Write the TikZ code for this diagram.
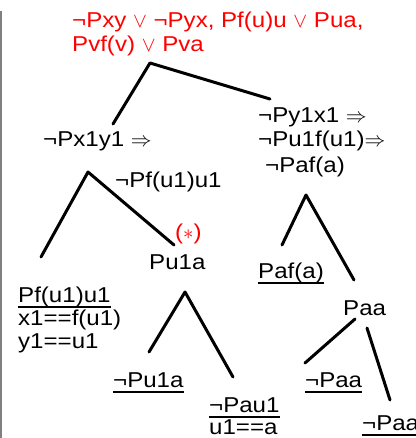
\documentclass[tikz,border=0pt]{standalone}
\usepackage{fontspec}
\setmainfont{Liberation Sans}[FakeStretch=1.12]

\tikzset{
  term/.style={anchor=base west, inner sep=0pt, font=\fontsize{21.5}{24}\selectfont},
  goal/.style={term, text=red},
  closed/.style={term, append after command={([yshift=-5pt]\tikzlastnode.base west)
      edge[line width=1.5pt] ([yshift=-5pt]\tikzlastnode.base east)}},
  branch/.style={line width=3pt, line cap=round},
}

\begin{document}
\begin{tikzpicture}[x=1pt, y=-1pt, line join=round]
  \useasboundingbox (0,0) rectangle (415,438);
  \draw[gray, line width=1.3pt] (1,11) -- (1,438);

  % clauses
  \node[goal] (cl1) at (72,28) {¬Pxy $\vee$ ¬Pyx, Pf(u)u $\vee$ Pua,};
  \node[goal] (cl2) at (72,52) {Pvf(v) $\vee$ Pva};

  % first split
  \coordinate (r0) at (150,63);
  \coordinate (r1) at (113,124);
  \coordinate (r2) at (270,99);
  \draw[branch] (r1) -- (r0) -- (r2);

  \node[term] (g1) at (43,147) {¬Px1y1 $\Rightarrow$};
  \node[term] (h1) at (258,123) {¬Py1x1 $\Rightarrow$};
  \node[term] (h2) at (258,147) {¬Pu1f(u1)$\Rightarrow$};
  \node[term] (h3) at (265,172) {¬Paf(a)};
  \node[term] (g2) at (115,187) {¬Pf(u1)u1};

  % left goal
  \coordinate (l0) at (88,172);
  \coordinate (l1) at (41,257);
  \coordinate (l2) at (174,245);
  \draw[branch] (l1) -- (l0) -- (l2);

  \node[closed] (pf) at (18,302) {Pf(u1)u1};
  \node[term] (xeq) at (18,325) {x1==f(u1)};
  \node[term] (yeq) at (18,348) {y1==u1};

  \node[goal] (star) at (175,239) {($\ast$)};
  \node[term] (pu) at (149,269) {Pu1a};

  \coordinate (p0) at (185,292);
  \coordinate (p1) at (149,352);
  \coordinate (p2) at (233,377);
  \draw[branch] (p1) -- (p0) -- (p2);

  \node[closed] (npu) at (113,387) {¬Pu1a};
  \node[closed] (npa) at (209,412) {¬Pau1};
  \node[term] (ueq) at (209,434) {u1==a};

  % right goal
  \coordinate (m0) at (306,195);
  \coordinate (m1) at (282,245);
  \coordinate (m2) at (354,280);
  \draw[branch] (m1) -- (m0) -- (m2);

  \node[closed] (paf) at (258,278) {Paf(a)};
  \node[term] (paa) at (343,315) {Paa};

  \coordinate (q1) at (355,319);
  \coordinate (q2) at (305,363);
  \coordinate (q3) at (367,328);
  \coordinate (q4) at (390,400);
  \draw[branch] (q1) -- (q2);
  \draw[branch] (q3) -- (q4);

  \node[closed] (npaa) at (305,387) {¬Paa};
  \node[closed] (npaa2) at (362,430) {¬Paa};
\end{tikzpicture}
\end{document}
